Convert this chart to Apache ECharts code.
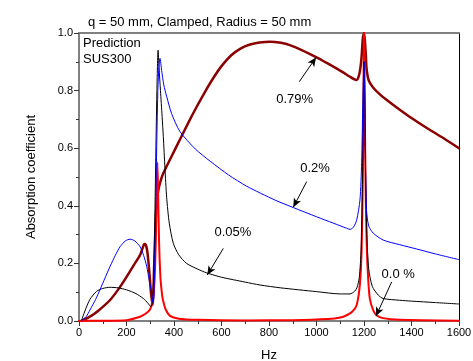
<!DOCTYPE html>
<html><head><meta charset="utf-8">
<script src="https://cdn.jsdelivr.net/npm/echarts@6/dist/echarts.min.js"></script>
<style>html,body{margin:0;padding:0;background:#fff}#c{width:473px;height:361px}</style>
</head><body><div id="c"></div>
<script>
const titleText = 'q = 50 mm, Clamped, Radius = 50 mm';
const xTicks = [0,200,400,600,800,1000,1200,1400,1600];
const yTicks = [0.0,0.2,0.4,0.6,0.8,1.0];
const seriesNames = ['0.79%','0.0 %','0.05%','0.2%'];

// [Hz, absorption]
const s079 = [[10,0],[46,0.015],[80,0.035],[131,0.073],[170,0.115],[201,0.154],[230,0.193],[257,0.229],[268,0.253],[275,0.267],[281,0.265],[287,0.245],[293,0.2],[299,0.14],[304,0.09],[310,0.056],[316,0.18],[322,0.33],[327,0.41],[334,0.455],[345,0.49],[355,0.513],[390,0.572],[425,0.63],[460,0.688],[495,0.743],[530,0.795],[565,0.843],[600,0.885],[640,0.922],[680,0.946],[720,0.96],[760,0.967],[804,0.97],[850,0.966],[888,0.958],[940,0.94],[994,0.918],[1030,0.902],[1071,0.883],[1110,0.864],[1141,0.848],[1160,0.839],[1169,0.837],[1178,0.85],[1185,0.88],[1190,0.92],[1195,0.98],[1200,1.0],[1204,0.97],[1208,0.92],[1211,0.875],[1220,0.835],[1239,0.81],[1267,0.787],[1300,0.765],[1352,0.733],[1400,0.705],[1478,0.663],[1540,0.632],[1600,0.60]];
const s000 = [[0,0],[100,0.001],[200,0.003],[257,0.015],[280,0.025],[299,0.04],[310,0.07],[318,0.14],[323,0.27],[327,0.45],[330,0.55],[333,0.45],[337,0.28],[343,0.15],[350,0.09],[355,0.068],[365,0.04],[383,0.018],[420,0.008],[500,0.004],[700,0.002],[900,0.003],[1050,0.007],[1100,0.012],[1127,0.02],[1150,0.032],[1169,0.055],[1183,0.13],[1190,0.25],[1195,0.5],[1198,0.8],[1200,1.0],[1203,0.75],[1207,0.45],[1212,0.25],[1218,0.14],[1225,0.075],[1240,0.035],[1253,0.02],[1280,0.01],[1350,0.004],[1600,0.001]];
const s005 = [[10,0],[25,0.035],[46,0.075],[74,0.103],[100,0.113],[130,0.117],[165,0.115],[201,0.108],[240,0.095],[271,0.078],[290,0.062],[303,0.05],[310,0.07],[316,0.2],[322,0.5],[328,0.8],[333,0.94],[337,0.88],[343,0.8],[350,0.71],[355,0.64],[362,0.53],[369,0.43],[380,0.34],[397,0.27],[420,0.23],[453,0.2],[500,0.18],[538,0.167],[600,0.152],[700,0.135],[762,0.125],[850,0.115],[1000,0.102],[1100,0.094],[1141,0.094],[1160,0.103],[1170,0.115],[1180,0.15],[1188,0.25],[1194,0.5],[1198,0.85],[1200,0.9],[1203,0.8],[1207,0.5],[1212,0.3],[1220,0.18],[1235,0.12],[1260,0.09],[1281,0.078],[1350,0.072],[1400,0.069],[1500,0.064],[1600,0.059]];
const s02 = [[10,0],[30,0.015],[46,0.038],[70,0.075],[88,0.108],[110,0.15],[131,0.19],[153,0.228],[173,0.258],[195,0.278],[215,0.284],[235,0.278],[257,0.258],[272,0.228],[285,0.19],[296,0.14],[306,0.097],[311,0.065],[315,0.08],[320,0.25],[326,0.55],[332,0.8],[337,0.89],[341,0.912],[348,0.87],[357,0.82],[369,0.78],[390,0.72],[425,0.658],[490,0.597],[552,0.555],[630,0.507],[706,0.468],[825,0.42],[902,0.394],[1000,0.362],[1070,0.34],[1127,0.322],[1141,0.318],[1155,0.325],[1169,0.35],[1183,0.42],[1190,0.55],[1195,0.75],[1200,0.90],[1204,0.75],[1207,0.5],[1211,0.38],[1220,0.33],[1239,0.305],[1281,0.281],[1350,0.265],[1422,0.25],[1500,0.233],[1600,0.213]];

// annotation: label position [Hz, value], arrow from -> to
const labelPos = [[908,0.771],[1344,0.163],[648,0.306],[994,0.531]];
const arrowFrom = [[927.6,0.831],[1316.6,0.136],[607.6,0.252],[958.7,0.484]];
const arrowTo = [[997.9,0.915],[1250.5,0.017],[540.2,0.16],[902.3,0.395]];

const FONT = '"Liberation Sans", Arial, sans-serif';
const colors = ['#8B0000','#FF0000','#000000','#0000FF'];
const widths = [2.5,2,1,1];
const datas = [s079,s000,s005,s02];

const chart = echarts.init(document.getElementById('c'), null, {renderer:'canvas'});
const series = datas.map((d,i)=>({
  name: seriesNames[i], type:'line', data:d, xAxisIndex:0, yAxisIndex:0,
  showSymbol:false, smooth:0.25, animation:false, silent:true,
  lineStyle:{color:colors[i], width:widths[i], join:'round', cap:'round'}, itemStyle:{color:colors[i]}, z: 2+i,
  markLine:{silent:true, animation:false, symbol:['none','arrow'], symbolSize:[6,9],
    lineStyle:{color:'#000', width:1, type:'solid'}, label:{show:false},
    data:[[{coord:arrowFrom[i]},{coord:arrowTo[i]}]]},
  markPoint:{silent:true, animation:false, symbol:'circle', symbolSize:0,
    label:{show:true, position:'inside', formatter:'{b}', color:'#000', fontSize:13, fontFamily:FONT},
    data:[{name:seriesNames[i], coord:labelPos[i]}]}
}));

chart.setOption({
  backgroundColor:'#fff',
  animation:false,
  textStyle:{fontFamily:FONT},
  title:{text:titleText, left:83, top:11, textStyle:{fontSize:13, fontWeight:'normal', color:'#000', fontFamily:FONT}},
  grid:{left:79, right:14, top:33, bottom:40, containLabel:false, outerBoundsMode:'none'},
  graphic:[
    {type:'text', left:83, top:37, style:{text:'Prediction', fontSize:13, fontFamily:FONT, fill:'#000'}},
    {type:'text', left:83, top:53, style:{text:'SUS300', fontSize:13, fontFamily:FONT, fill:'#000'}}
  ],
  xAxis:[{type:'value', min:xTicks[0], max:xTicks[xTicks.length-1], interval:200, position:'bottom',
    name:'Hz', nameLocation:'middle', nameGap:28, nameTextStyle:{fontSize:13, color:'#000', fontFamily:FONT},
    axisLine:{onZero:false, lineStyle:{color:'#808080', width:2}},
    axisTick:{show:true, inside:false, length:5, lineStyle:{color:'#333', width:1}},
    minorTick:{show:true, splitNumber:2, length:3, lineStyle:{color:'#333', width:1}},
    axisLabel:{fontSize:11, color:'#000', fontFamily:FONT, margin:6, formatter:v=>String(v)},
    splitLine:{show:false}},
   {type:'value', min:0, max:1600, position:'top', axisLine:{onZero:false, lineStyle:{color:'#808080', width:2}},
    axisTick:{show:false}, axisLabel:{show:false}, splitLine:{show:false}}],
  yAxis:[{type:'value', min:yTicks[0], max:yTicks[yTicks.length-1], interval:0.2, position:'left',
    name:'Absorption coefficient', nameLocation:'middle', nameGap:41, nameTextStyle:{fontSize:13, color:'#000', fontFamily:FONT},
    axisLine:{onZero:false, lineStyle:{color:'#808080', width:2}},
    axisTick:{show:true, inside:false, length:5, lineStyle:{color:'#333', width:1}},
    minorTick:{show:true, splitNumber:2, length:3, lineStyle:{color:'#333', width:1}},
    axisLabel:{fontSize:11, color:'#000', fontFamily:FONT, margin:6, formatter:v=>v.toFixed(1)},
    splitLine:{show:false}},
   {type:'value', min:0, max:1, position:'right', axisLine:{show:true, onZero:false, lineStyle:{color:'#000', width:1}},
    axisTick:{show:false}, axisLabel:{show:false}, splitLine:{show:false}}],
  series: series
});
</script></body></html>
